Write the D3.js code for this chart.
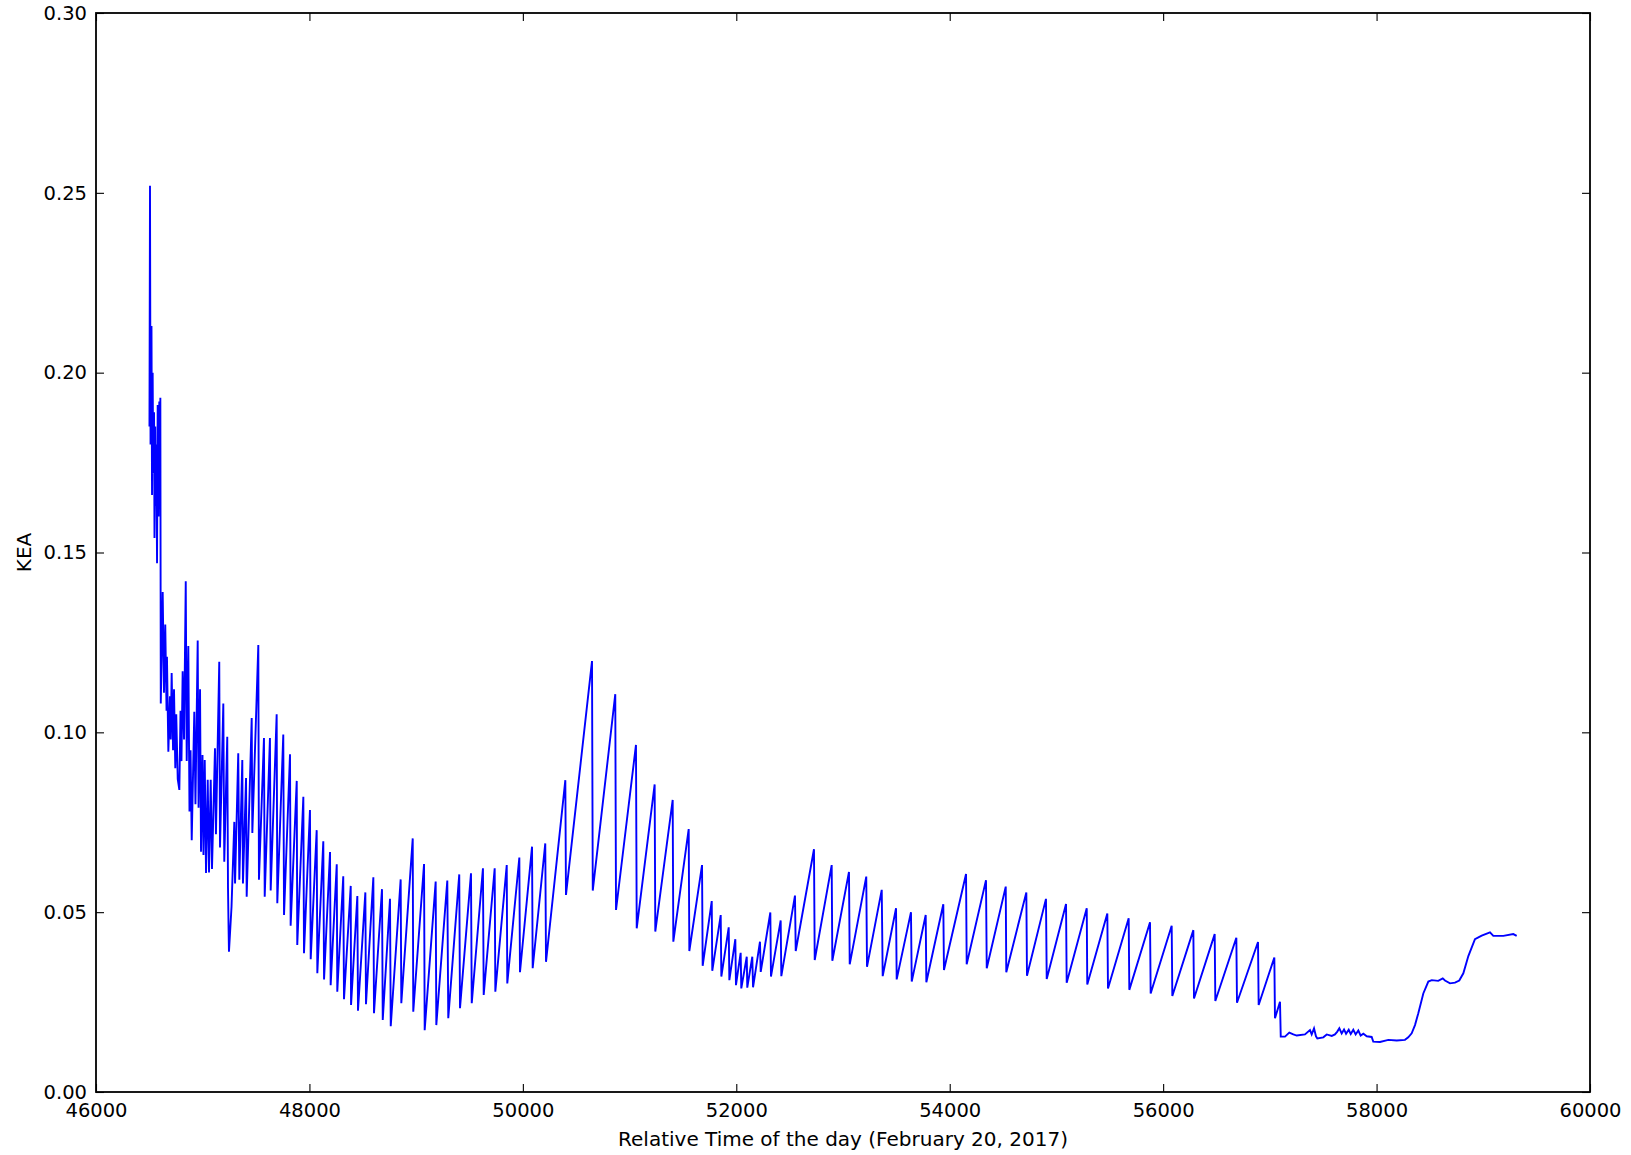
<!DOCTYPE html>
<html>
<head>
<meta charset="utf-8">
<script src="https://cdn.jsdelivr.net/npm/d3@7"></script>
<style>
  body { margin: 0; background: #fff; }
  text { font-family: "DejaVu Sans", sans-serif; }
</style>
</head>
<body>
<div id="chart-area"></div>
<script>
// relative time of the day (s) and KEA value
const times = [
  46501, 46506, 46511, 46520, 46525, 46531, 46536, 46544, 46548, 46555,
  46559, 46565, 46572, 46578, 46586, 46593, 46600, 46603, 46607, 46625,
  46637, 46649, 46661, 46665, 46678, 46693, 46700, 46709, 46722, 46731,
  46743, 46752, 46766, 46781, 46792, 46801, 46812, 46825, 46841, 46850,
  46865, 46876, 46886, 46897, 46921, 46932, 46953, 46961, 46975, 46984,
  46998, 47007, 47019, 47031, 47047, 47059, 47075, 47087, 47115, 47124,
  47155, 47162, 47193, 47202, 47230, 47237, 47242, 47246, 47270, 47296,
  47303, 47333, 47343, 47371, 47377, 47406, 47412, 47459, 47465, 47521,
  47527, 47574, 47581, 47630, 47637, 47693, 47699, 47755, 47762, 47818,
  47824, 47881, 47886, 47943, 47949, 48005, 48012, 48068, 48074, 48130,
  48137, 48193, 48199, 48256, 48261, 48317, 48324, 48387, 48390, 48449,
  48455, 48524, 48530, 48599, 48605, 48680, 48687, 48755, 48762, 48855,
  48861, 48968, 48973, 49074, 49080, 49183, 49189, 49292, 49301, 49404,
  49411, 49514, 49521, 49626, 49633, 49736, 49742, 49849, 49854, 49967,
  49973, 50086, 50092, 50210, 50217, 50398, 50404, 50648, 50655, 50866,
  50873, 51060, 51067, 51235, 51241, 51404, 51410, 51554, 51560, 51679,
  51685, 51770, 51775, 51854, 51860, 51929, 51935, 51991, 51997, 52041,
  52047, 52098, 52103, 52150, 52157, 52222, 52229, 52319, 52325, 52416,
  52422, 52550, 52557, 52728, 52735, 52894, 52900, 53056, 53063, 53218,
  53225, 53363, 53372, 53497, 53503, 53637, 53644, 53775, 53781, 53940,
  53946, 54153, 54159, 54340, 54347, 54525, 54530, 54718, 54724, 54902,
  54909, 55090, 55096, 55284, 55289, 55477, 55483, 55677, 55683, 55877,
  55883, 56080, 56086, 56283, 56289, 56483, 56489, 56686, 56692, 56889,
  56895, 57042, 57048, 57095, 57102, 57142, 57182, 57220, 57252, 57329,
  57376, 57392, 57414, 57432, 57445, 57501, 57533, 57580, 57610, 57632,
  57651, 57673, 57695, 57714, 57739, 57758, 57782, 57804, 57829, 57851,
  57876, 57908, 57954, 57969, 58032, 58110, 58189, 58266, 58297, 58329,
  58360, 58391, 58438, 58485, 58517, 58578, 58620, 58641, 58688, 58735,
  58775, 58813, 58860, 58922, 58985, 59063, 59094, 59188, 59281, 59313
];

const kea = [
  0.185, 0.252, 0.180, 0.213, 0.166, 0.200, 0.172, 0.189, 0.154, 0.185,
  0.163, 0.180, 0.147, 0.191, 0.160, 0.192, 0.175, 0.193, 0.108, 0.139,
  0.111, 0.130, 0.106, 0.121, 0.0946, 0.110, 0.098, 0.1165, 0.095, 0.112,
  0.090, 0.105, 0.087, 0.084, 0.106, 0.092, 0.117, 0.098, 0.142, 0.092,
  0.124, 0.078, 0.095, 0.070, 0.1057, 0.080, 0.1255, 0.079, 0.112, 0.0668,
  0.0937, 0.0659, 0.0923, 0.0609, 0.0868, 0.0610, 0.0868, 0.062, 0.0956, 0.0717,
  0.1196, 0.068, 0.108, 0.064, 0.0988, 0.0567, 0.046, 0.039, 0.0515, 0.0751,
  0.058, 0.0942, 0.059, 0.0923, 0.058, 0.0873, 0.0543, 0.104, 0.072, 0.1243,
  0.059, 0.0984, 0.0543, 0.0984, 0.056, 0.105, 0.0525, 0.0994, 0.0492, 0.0939,
  0.0462, 0.0865, 0.0409, 0.0821, 0.0386, 0.0784, 0.0369, 0.0728, 0.033, 0.0697,
  0.0313, 0.0667, 0.0297, 0.0633, 0.0279, 0.0600, 0.0258, 0.0573, 0.0242, 0.0545,
  0.0226, 0.0555, 0.0244, 0.0597, 0.0219, 0.0564, 0.0200, 0.0537, 0.0183, 0.0591,
  0.0247, 0.0705, 0.0223, 0.0634, 0.0172, 0.0585, 0.0186, 0.0588, 0.0205, 0.0605,
  0.0233, 0.0608, 0.0247, 0.0622, 0.0270, 0.0622, 0.0279, 0.0631, 0.0302, 0.0652,
  0.0333, 0.0682, 0.0344, 0.0691, 0.0362, 0.0867, 0.0548, 0.1198, 0.0560, 0.1106,
  0.0506, 0.0965, 0.0455, 0.0855, 0.0446, 0.0812, 0.0418, 0.0731, 0.0392, 0.0631,
  0.0351, 0.0531, 0.0337, 0.0492, 0.0321, 0.0458, 0.0311, 0.0425, 0.0297, 0.0387,
  0.0288, 0.0376, 0.0290, 0.0376, 0.0291, 0.0418, 0.0334, 0.0499, 0.0321, 0.0477,
  0.0322, 0.0546, 0.0392, 0.0675, 0.0367, 0.0631, 0.0365, 0.0612, 0.0355, 0.0599,
  0.0348, 0.0562, 0.0322, 0.0511, 0.0313, 0.0500, 0.0307, 0.0492, 0.0305, 0.0522,
  0.0339, 0.0606, 0.0355, 0.0589, 0.0344, 0.0571, 0.0333, 0.0555, 0.0323, 0.0537,
  0.0314, 0.0523, 0.0304, 0.0511, 0.0299, 0.0496, 0.0288, 0.0483, 0.0284, 0.0472,
  0.0274, 0.0462, 0.0267, 0.0450, 0.0260, 0.0439, 0.0253, 0.0429, 0.0248, 0.0417,
  0.0242, 0.0374, 0.0205, 0.0251, 0.0154, 0.0154, 0.0165, 0.0160, 0.0157, 0.0160,
  0.0172, 0.0160, 0.0177, 0.0155, 0.0149, 0.0152, 0.0160, 0.0156, 0.0160, 0.0168,
  0.0177, 0.0163, 0.0174, 0.0162, 0.0173, 0.0161, 0.0173, 0.0160, 0.0171, 0.0157,
  0.0162, 0.0155, 0.0153, 0.0140, 0.0139, 0.0145, 0.0143, 0.0145, 0.0152, 0.0163,
  0.0186, 0.0219, 0.0274, 0.0307, 0.0311, 0.0309, 0.0316, 0.0310, 0.0302, 0.0304,
  0.0310, 0.0330, 0.0378, 0.0425, 0.0435, 0.0444, 0.0434, 0.0434, 0.0439, 0.0434
];

const xTicks = [46000, 48000, 50000, 52000, 54000, 56000, 58000, 60000];
const yTicks = [0.00, 0.05, 0.10, 0.15, 0.20, 0.25, 0.30];

const margin = { top: 13, right: 41, bottom: 63, left: 96 };
const width = 1631 - margin.left - margin.right;
const height = 1155 - margin.top - margin.bottom;

const svg = d3.select("#chart-area")
  .append("svg")
    .attr("width", 1631)
    .attr("height", 1155);

const g = svg.append("g")
  .attr("transform", `translate(${margin.left}, ${margin.top})`);

const x = d3.scaleLinear()
  .domain([46000, 60000])
  .range([0, width]);

const y = d3.scaleLinear()
  .domain([0, 0.30])
  .range([height, 0]);

const data = times.map((t, i) => ({ t: t, v: kea[i] }));

// data line
const line = d3.line()
  .x(d => x(d.t))
  .y(d => y(d.v));

g.append("path")
  .datum(data)
  .attr("fill", "none")
  .attr("stroke", "#0000ff")
  .attr("stroke-width", 1.9)
  .attr("stroke-linejoin", "miter")
  .attr("d", line);

// axes, ticks pointing inward like matplotlib classic
const xAxisCall = d3.axisBottom(x)
  .tickValues(xTicks)
  .tickSize(-8)
  .tickPadding(11)
  .tickFormat(d3.format("d"));

const yAxisCall = d3.axisLeft(y)
  .tickValues(yTicks)
  .tickSize(-8)
  .tickPadding(9)
  .tickFormat(d3.format(".2f"));

const xAxis = g.append("g")
  .attr("class", "x-axis")
  .attr("transform", `translate(0, ${height})`)
  .call(xAxisCall);

const yAxis = g.append("g")
  .attr("class", "y-axis")
  .call(yAxisCall);

const xTop = g.append("g")
  .call(d3.axisTop(x).tickValues(xTicks).tickSize(-8).tickFormat(""));

const yRight = g.append("g")
  .attr("transform", `translate(${width}, 0)`)
  .call(d3.axisRight(y).tickValues(yTicks).tickSize(-8).tickFormat(""));

[xAxis, yAxis, xTop, yRight].forEach(a => {
  a.select(".domain").remove();
  a.selectAll(".tick line").attr("stroke", "#000").attr("stroke-width", 1.1);
  a.selectAll(".tick text")
    .attr("fill", "#000")
    .attr("font-size", "19.5px")
    .attr("font-family", "DejaVu Sans, sans-serif");
});

// frame
g.append("rect")
  .attr("x", 0)
  .attr("y", 0)
  .attr("width", width)
  .attr("height", height)
  .attr("fill", "none")
  .attr("stroke", "#000")
  .attr("stroke-width", 1.8);

g.append("text")
  .attr("class", "x label")
  .attr("x", width / 2)
  .attr("y", height + 54)
  .attr("font-size", "20px")
  .attr("text-anchor", "middle")
  .text("Relative Time of the day (February 20, 2017)");

g.append("text")
  .attr("class", "y label")
  .attr("x", -(height / 2))
  .attr("y", -65)
  .attr("font-size", "20px")
  .attr("text-anchor", "middle")
  .attr("transform", "rotate(-90)")
  .text("KEA");
</script>
</body>
</html>
